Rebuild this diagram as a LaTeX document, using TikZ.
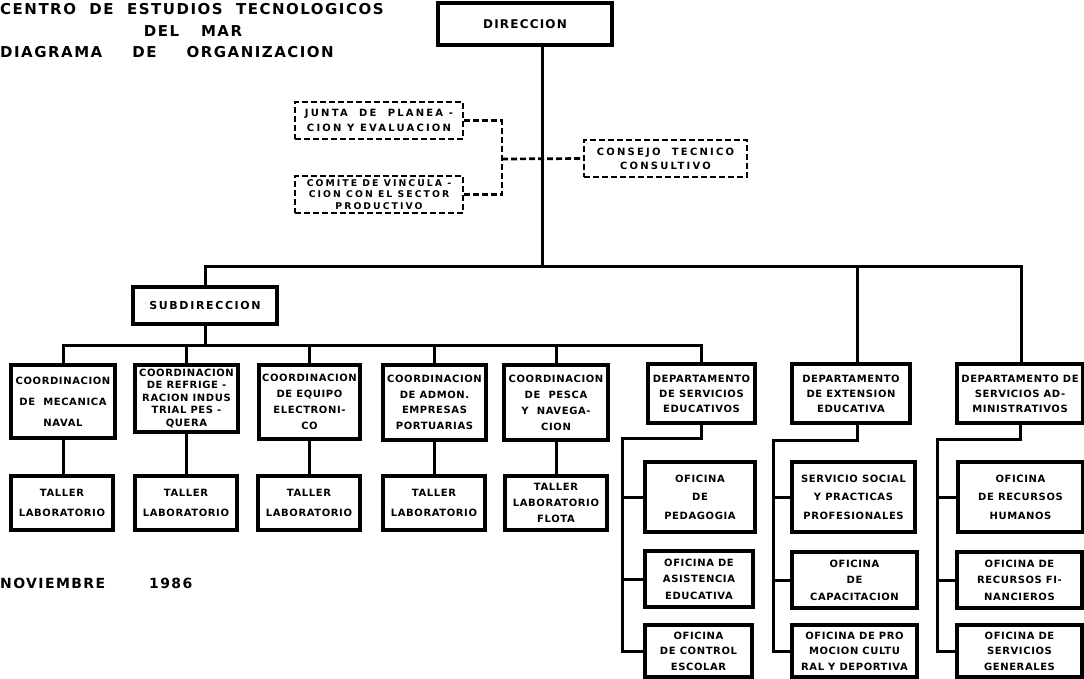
\documentclass[tikz,border=0pt]{standalone}
\usepackage{fontspec}
\newfontfamily\boxf[LetterSpace=6]{DejaVu Sans Bold}
\newfontfamily\widef[LetterSpace=10]{DejaVu Sans Bold}
\newfontfamily\subf[LetterSpace=15]{DejaVu Sans Bold}
\newfontfamily\dashf[LetterSpace=22]{DejaVu Sans Bold}
\newfontfamily\titf[LetterSpace=10]{DejaVu Sans Bold}
\usetikzlibrary{calc}
\tikzset{
  box/.style={draw, line width=3.3pt, inner sep=1pt, align=center,
    font=\boxf\fontsize{10}{15}\selectfont},
  ls/.style={font=\boxf\fontsize{10}{#1}\selectfont},
  wide/.style={font=\widef\fontsize{12}{12}\selectfont},
  subw/.style={font=\subf\fontsize{11}{12}\selectfont},
  lss/.style={font=\dashf\fontsize{10}{#1}\selectfont},
  dbox/.style={dash pattern=on 6pt off 3pt, line width=2.7pt},
  link/.style={line width=3pt},
  dlink/.style={line width=2.7pt, dash pattern=on 6pt off 3pt},
  titlet/.style={inner sep=0pt, font=\titf\fontsize{15}{15}\selectfont},
}
\newcommand\bx[7][]{\node[box,minimum width={(#5)-(#3)},minimum height={(#6)-(#4)},#1] (#2) at ({((#3)+(#5))/2},{((#4)+(#6))/2}) {#7};}
\begin{document}
\begin{tikzpicture}[x=1pt,y=-1pt]
\useasboundingbox (0,0) rectangle (1084,678);
% titles
\node[titlet, anchor=west] (tit1) at (0,9) {CENTRO\ \ DE\ \ ESTUDIOS\ \ TECNOLOGICOS};
\node[titlet] (tit2) at (193,31) {DEL\hspace{22pt}MAR};
\node[titlet, anchor=west] (tit3) at (0,52) {DIAGRAMA\hspace{30pt}DE\hspace{30pt}ORGANIZACION};
\node[titlet, anchor=west, font=\titf\fontsize{14}{14}\selectfont] (date) at (0,583) {NOVIEMBRE\hspace{44pt}1986};
% top
\bx[wide]{dir}{438}{3}{612}{45}{DIRECCION}
\bx[dbox,lss=15]{junta}{295}{102}{463}{139}{JUNTA\ \ DE\ \ PLANEA -\\CION Y EVALUACION}
\bx[dbox,font=\dashf\fontsize{9.3}{11.5}\selectfont]{comite}{295}{176}{463}{213}{COMITE DE VINCULA -\\CION CON EL SECTOR\\PRODUCTIVO}
\bx[dbox,lss=14]{consejo}{584}{140}{747}{177}{CONSEJO\ \ TECNICO\\CONSULTIVO}
\bx[subw]{sub}{133}{287}{277}{324}{SUBDIRECCION}
% coordination row
\bx[ls=21]{c1}{11}{365}{115}{438}{COORDINACION\\DE\ \ MECANICA\\NAVAL}
\bx[ls=12.5]{c2}{135}{365}{238}{432}{COORDINACION\\DE REFRIGE -\\RACION INDUS\\TRIAL PES -\\QUERA}
\bx[ls=16]{c3}{259}{365}{360}{439}{COORDINACION\\DE EQUIPO\\ELECTRONI-\\CO}
\bx[ls=15.5]{c4}{383}{365}{486}{440}{COORDINACION\\DE ADMON.\\EMPRESAS\\PORTUARIAS}
\bx[ls=16]{c5}{504}{365}{608}{440}{COORDINACION\\DE\ \ PESCA\\Y\ \ NAVEGA-\\CION}
\bx[ls=15]{d6}{648}{364}{755}{423}{DEPARTAMENTO\\DE SERVICIOS\\EDUCATIVOS}
\bx[ls=15]{d7}{792}{364}{910}{423}{DEPARTAMENTO\\DE EXTENSION\\EDUCATIVA}
\bx[ls=15]{d8}{957}{364}{1083}{423}{DEPARTAMENTO DE\\SERVICIOS AD-\\MINISTRATIVOS}
% talleres
\bx[ls=20]{t1}{11}{476}{113}{530}{TALLER\\LABORATORIO}
\bx[ls=20]{t2}{135}{476}{237}{530}{TALLER\\LABORATORIO}
\bx[ls=20]{t3}{258}{476}{360}{530}{TALLER\\LABORATORIO}
\bx[ls=20]{t4}{383}{476}{485}{530}{TALLER\\LABORATORIO}
\bx[ls=16]{t5}{505}{476}{607}{530}{TALLER\\LABORATORIO\\FLOTA}
% offices
\bx[ls=18.5]{o1}{645}{462}{755}{532}{OFICINA\\DE\\PEDAGOGIA}
\bx[ls=16.5]{o2}{645}{551}{753}{607}{OFICINA DE\\ASISTENCIA\\EDUCATIVA}
\bx[ls=15.5]{o3}{645}{625}{752}{677}{OFICINA\\DE CONTROL\\ESCOLAR}
\bx[ls=18.5]{p1}{792}{462}{915}{532}{SERVICIO SOCIAL\\Y PRACTICAS\\PROFESIONALES}
\bx[ls=16.5]{p2}{792}{552}{917}{608}{OFICINA\\DE\\CAPACITACION}
\bx[ls=15.5]{p3}{792}{625}{917}{677}{OFICINA DE PRO\\MOCION CULTU\\RAL Y DEPORTIVA}
\bx[ls=18.5]{q1}{958}{462}{1083}{532}{OFICINA\\DE RECURSOS\\HUMANOS}
\bx[ls=16.5]{q2}{957}{552}{1082}{608}{OFICINA DE\\RECURSOS FI-\\NANCIEROS}
\bx[ls=15.5]{q3}{957}{625}{1082}{677}{OFICINA DE\\SERVICIOS\\GENERALES}
% dashed links
\coordinate (dv) at (502,159);
\draw[dlink] (junta.east) -| (dv) |- (comite.east);
\draw[dlink] (dv) -- (consejo.west);
% main links
\coordinate (b1) at (542,266);
\coordinate (bL) at (205,266);
\coordinate (b7) at (857,266);
\coordinate (bR) at (1021,266);
\draw[link] (dir.south -| b1) -- (b1);
\draw[link] (sub.north -| bL) |- (bR) -- (bR |- d8.north);
\draw[link] (b7) -- (b7 |- d7.north);
\coordinate (s2) at (205,345);
\draw[link] (sub.south -| s2) -- (s2);
\draw[link] (c1.north) |- (s2 -| d6.north) -- (d6.north);
\foreach \n in {c2,c3,c4,c5}{\draw[link] (\n.north) -- (\n.north |- s2);}
\foreach \n/\m in {c1/t1,c2/t2,c3/t3,c4/t4,c5/t5}{\draw[link] (\n.south) -- (\n.south |- \m.north);}
% departments to offices
\coordinate (e6) at (622,438);
\draw[link] (d6.south) |- (e6) |- (o3.west);
\draw[link] (o1.west -| e6) -- (o1.west);
\draw[link] (o2.west -| e6) -- (o2.west);
\coordinate (e7) at (773,440);
\draw[link] (d7.south -| b7) |- (e7) |- (p3.west);
\draw[link] (p1.west -| e7) -- (p1.west);
\draw[link] (p2.west -| e7) -- (p2.west);
\coordinate (e8) at (937,439);
\draw[link] (d8.south) |- (e8) |- (q3.west);
\draw[link] (q1.west -| e8) -- (q1.west);
\draw[link] (q2.west -| e8) -- (q2.west);
\end{tikzpicture}
\end{document}
